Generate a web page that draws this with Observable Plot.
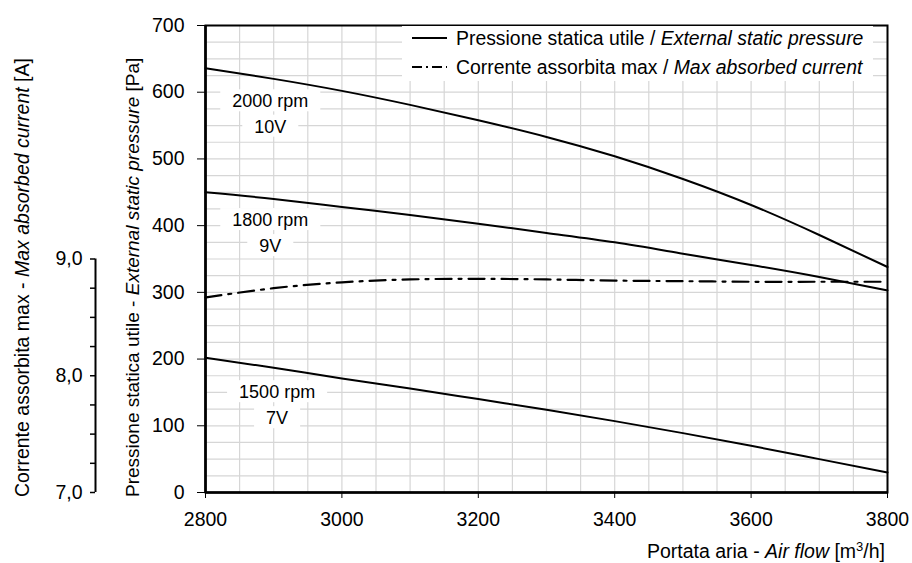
<!DOCTYPE html>
<html>
<head>
<meta charset="utf-8">
<script src="https://cdn.jsdelivr.net/npm/d3@7"></script>
<script src="https://cdn.jsdelivr.net/npm/@observablehq/plot@0.6"></script>
<style>
  html, body { margin: 0; padding: 0; background: white; }
  svg { display: block; }
</style>
</head>
<body>
<div id="chart"></div>
<script>
// ---- Data ----
const airFlow   = [2800, 2900, 3000, 3100, 3200, 3300, 3400, 3500, 3600, 3700, 3800];
const p2000rpm  = [636, 620, 602, 581, 558, 533, 504, 470, 431, 386, 338];
const p1800rpm  = [450, 440, 428, 416, 403, 389, 375, 358, 341, 323, 303];
const p1500rpm  = [202, 187, 171, 156, 140, 124, 107, 89, 70, 50, 30];
const currentA  = [8.67, 8.75, 8.80, 8.825, 8.83, 8.825, 8.815, 8.81, 8.805, 8.805, 8.805];

const speedLabels   = ["2000 rpm", "1800 rpm", "1500 rpm"];
const voltageLabels = ["10V", "9V", "7V"];
const labelFlow     = [2895, 2895, 2905];
const speedLabelP   = [586, 408, 150];
const voltLabelP    = [548, 369, 111];

const xTicks = [2800, 3000, 3200, 3400, 3600, 3800];
const yTicks = [0, 100, 200, 300, 400, 500, 600, 700];
const currentTicks = [7.0, 7.25, 7.5, 7.75, 8.0, 8.25, 8.5, 8.75, 9.0];
const currentMajor = [7.0, 8.0, 9.0];

// secondary axis: 7,0 A sits on 0 Pa, 9,0 A sits on 350 Pa
const CUR_MIN = 7, PA_PER_A = 175;
const curToPa = a => (a - CUR_MIN) * PA_PER_A;

const curves = [];
[p2000rpm, p1800rpm, p1500rpm].forEach((arr, k) =>
  arr.forEach((p, i) => curves.push({q: airFlow[i], p, s: speedLabels[k]})));
const currentData = airFlow.map((q, i) => ({q, a: currentA[i]}));
const labelData = [];
speedLabels.forEach((s, k) => {
  labelData.push({q: labelFlow[k], p: speedLabelP[k], t: s});
  labelData.push({q: labelFlow[k], p: voltLabelP[k], t: voltageLabels[k]});
});

const FONT = "'Liberation Sans', Arial, Helvetica, sans-serif";
const gridColor = "#d6d6d6";

const chart = Plot.plot({
  width: 912,
  height: 563,
  marginLeft: 205,
  marginRight: 25,
  marginTop: 25,
  marginBottom: 71,
  style: {fontFamily: FONT, fontSize: "19px", color: "black", background: "white", overflow: "visible"},
  x: {domain: [2800, 3800]},
  y: {domain: [0, 700]},
  marks: [
    Plot.gridX(d3.range(2800, 3801, 50), {stroke: gridColor, strokeOpacity: 1, strokeWidth: 1.2}),
    Plot.gridY(d3.range(0, 701, 25), {stroke: gridColor, strokeOpacity: 1, strokeWidth: 1.2}),
    Plot.axisX(xTicks, {tickSize: 6, tickPadding: 14, label: null, fontSize: 19.5, tickFormat: d => String(d)}),
    Plot.axisY(yTicks, {tickSize: 8, tickPadding: 13, label: null, fontSize: 19.5, tickFormat: d => String(d)}),
    Plot.axisY(currentTicks.map(curToPa), {
      anchor: "left", dx: -110, tickSize: 5, tickPadding: 8, label: null, fontSize: 19.5,
      strokeWidth: 1.5,
      tickFormat: d => {
        const a = CUR_MIN + d / PA_PER_A;
        return currentMajor.some(m => Math.abs(m - a) < 1e-6) ? a.toFixed(1).replace(".", ",") : "";
      }
    }),
    Plot.ruleX([2800], {y1: curToPa(7), y2: curToPa(9), dx: -110, strokeWidth: 2, stroke: "black"}),
    Plot.line(curves, {x: "q", y: "p", z: "s", stroke: "black", strokeWidth: 2, curve: "natural"}),
    Plot.line(currentData, {x: "q", y: d => curToPa(d.a), stroke: "black", strokeWidth: 2.2,
      strokeDasharray: "16,7,3,7", curve: "natural"}),
    Plot.frame({stroke: "black", strokeWidth: 2}),
    Plot.ruleX([2800], {stroke: "black", strokeWidth: 2.6}),
    Plot.ruleY([0], {stroke: "black", strokeWidth: 2.6}),
    Plot.text(labelData, {x: "q", y: "p", text: "t", fontSize: 18, fill: "black", textAnchor: "middle"})
  ]
});

document.getElementById("chart").appendChild(chart);
const svg = d3.select(chart);

// white boxes behind the curve labels (as in the reference)
const labelSet = new Set([...speedLabels, ...voltageLabels]);
svg.selectAll("text").filter(function() { return labelSet.has(this.textContent); })
  .each(function() {
    const b = this.getBBox();
    const tr = this.getAttribute("transform");
    const rect = document.createElementNS("http://www.w3.org/2000/svg", "rect");
    rect.setAttribute("x", b.x - 12);
    rect.setAttribute("y", b.y - 2);
    rect.setAttribute("width", b.width + 24);
    rect.setAttribute("height", b.height + 2);
    rect.setAttribute("fill", "white");
    if (tr) rect.setAttribute("transform", tr);
    this.parentNode.insertBefore(rect, this);
  });

// legend (white box covering grid, two rows)
const lg = svg.append("g").attr("font-family", FONT).attr("font-size", 19.4).attr("text-anchor", "start");
lg.append("rect").attr("x", 402).attr("y", 26).attr("width", 471).attr("height", 55).attr("fill", "white");
const rows = [
  {y: 38, plain: "Pressione statica utile / ", ital: "External static pressure", dash: null},
  {y: 67, plain: "Corrente assorbita max / ", ital: "Max absorbed current", dash: "10,4,2,4"}
];
rows.forEach(r => {
  lg.append("line").attr("x1", 412).attr("x2", 447).attr("y1", r.y).attr("y2", r.y)
    .attr("stroke", "black").attr("stroke-width", 1.8).attr("stroke-dasharray", r.dash);
  const t = lg.append("text").attr("x", 456).attr("y", r.y).attr("dy", "0.35em")
    .attr("text-anchor", "start").attr("fill", "black");
  t.append("tspan").text(r.plain);
  t.append("tspan").attr("font-style", "italic").text(r.ital);
});

// axis titles
const tg = svg.append("g").attr("font-family", FONT).attr("font-size", 19.5).attr("fill", "black");
const t1 = tg.append("text").attr("transform", "translate(29,497) rotate(-90)").attr("text-anchor", "start");
t1.append("tspan").text("Corrente assorbita max - ");
t1.append("tspan").attr("font-style", "italic").text("Max absorbed current");
t1.append("tspan").text(" [A]");
const t2 = tg.append("text").attr("transform", "translate(139,497) rotate(-90)").attr("text-anchor", "start")
  .attr("font-size", 19);
t2.append("tspan").text("Pressione statica utile - ");
t2.append("tspan").attr("font-style", "italic").text("External static pressure");
t2.append("tspan").text(" [Pa]");
const t3 = tg.append("text").attr("x", 885).attr("y", 558).attr("text-anchor", "end");
t3.append("tspan").text("Portata aria - ");
t3.append("tspan").attr("font-style", "italic").text("Air flow");
t3.append("tspan").text(" [m");
t3.append("tspan").attr("font-size", 13).attr("dy", -7).text("3");
t3.append("tspan").attr("dy", 7).text("/h]");
</script>
</body>
</html>
